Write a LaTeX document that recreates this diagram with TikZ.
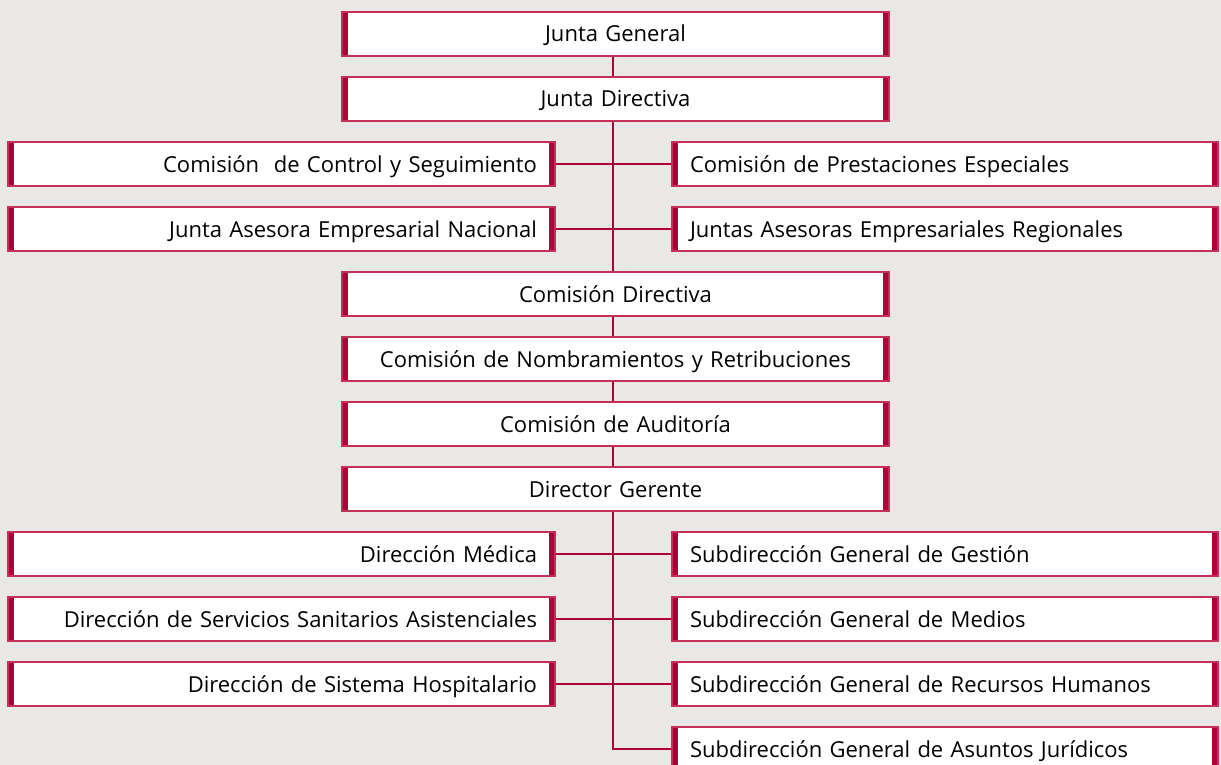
\documentclass[tikz,border=0pt]{standalone}
\usepackage{fontspec}
\setmainfont{Open Sans}
\definecolor{paper}{RGB}{234,232,229}
\definecolor{barred}{RGB}{176,0,56}
\definecolor{linered}{RGB}{198,48,88}

\begin{document}
\begin{tikzpicture}[x=1pt, y=-1pt,
  box/.style={draw=linered, line width=1.2pt, fill=white,
    minimum height=44pt, inner xsep=18pt, inner ysep=0pt,
    text height=18pt, text depth=2pt,
    font=\fontsize{22}{26}\selectfont,
    path picture={
      \fill[barred] (path picture bounding box.north west) rectangle ([xshift=6pt]path picture bounding box.south west);
      \fill[barred] (path picture bounding box.north east) rectangle ([xshift=-6pt]path picture bounding box.south east);
    }},
  midbox/.style={box, text width=511pt, align=center},
  leftbox/.style={box, text width=511pt, align=right},
  rightbox/.style={box, text width=510pt, align=left},
  link/.style={draw=barred, line width=1.5pt}]
\useasboundingbox[fill=paper] (0,0) rectangle (1221,765);

% Top of the chain
\node[midbox] (jg) at (615.5,34) {Junta General};
\node[midbox] (jd) at (615.5,99) {Junta Directiva};

% Commissions and advisory boards
\node[leftbox] (ccs) at (281.5,164) {Comisión\ \ de Control y Seguimiento};
\node[rightbox] (cpe) at (945,164) {Comisión de Prestaciones Especiales};
\node[leftbox] (jaen) at (281.5,229) {Junta Asesora Empresarial Nacional};
\node[rightbox] (jaer) at (945,229) {Juntas Asesoras Empresariales Regionales};

% Central chain
\node[midbox] (cd) at (615.5,294) {Comisión Directiva};
\node[midbox] (cnr) at (615.5,359) {Comisión de Nombramientos y Retribuciones};
\node[midbox] (ca) at (615.5,424) {Comisión de Auditoría};
\node[midbox] (dg) at (615.5,489) {Director Gerente};

% Directions
\node[leftbox] (dm) at (281.5,554) {Dirección Médica};
\node[leftbox] (dssa) at (281.5,619) {Dirección de Servicios Sanitarios Asistenciales};
\node[leftbox] (dsh) at (281.5,684) {Dirección de Sistema Hospitalario};

% Sub-directions
\node[rightbox] (sgg) at (945,554) {Subdirección General de Gestión};
\node[rightbox] (sgm) at (945,619) {Subdirección General de Medios};
\node[rightbox] (sgrh) at (945,684) {Subdirección General de Recursos Humanos};
\node[rightbox] (sgaj) at (945,749) {Subdirección General de Asuntos Jurídicos};

\coordinate (spine) at (613,0);

\draw[link]
%Main spine
(jg.south -| spine) -- (jd.north -| spine)
(jd.south -| spine) -- (cd.north -| spine)
(cd.south -| spine) -- (cnr.north -| spine)
(cnr.south -| spine) -- (ca.north -| spine)
(ca.south -| spine) -- (dg.north -| spine)
(dg.south -| spine) -- (sgaj.west -| spine) -- (sgaj.west)

%Side branches
(ccs.east) -- (cpe.west)
(jaen.east) -- (jaer.west)
(dm.east) -- (sgg.west)
(dssa.east) -- (sgm.west)
(dsh.east) -- (sgrh.west)
;
\end{tikzpicture}
\end{document}
